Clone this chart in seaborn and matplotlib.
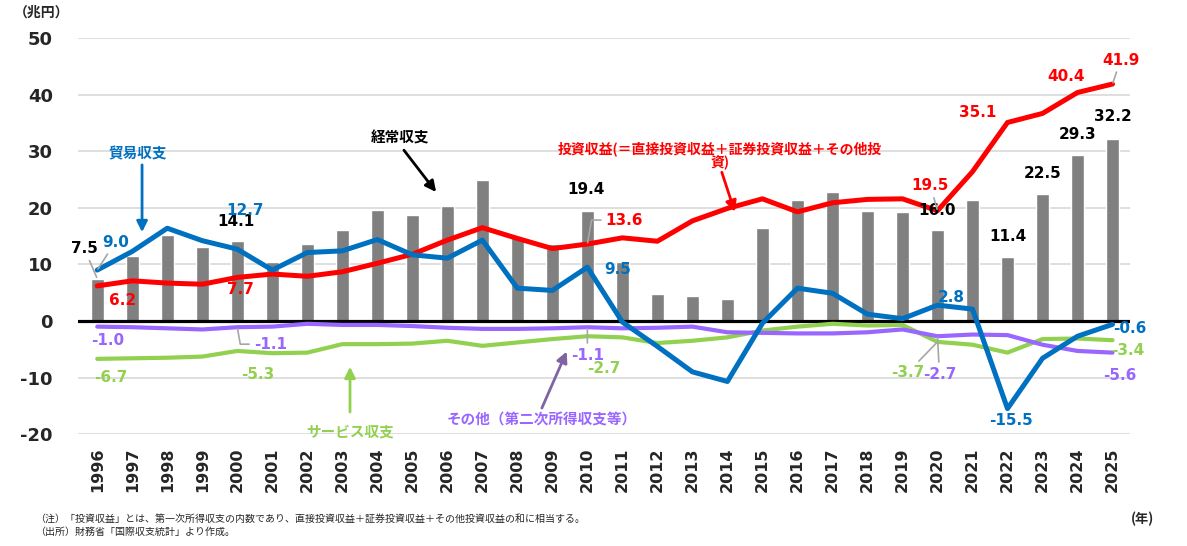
import numpy as np
import matplotlib
matplotlib.use("Agg")
import matplotlib.pyplot as plt
import seaborn as sns

sns.set_style("white")
plt.rcParams['font.family'] = ['DejaVu Sans', 'Noto Sans CJK JP']
plt.rcParams['axes.unicode_minus'] = False

# データ（兆円）
years = list(range(1996, 2026))
current = [7.5, 11.5, 15.2, 13.0, 14.1, 10.4, 13.6, 16.1, 19.6, 18.7, 20.3, 24.9, 14.9, 13.6, 19.4,
           10.5, 4.8, 4.4, 3.9, 16.4, 21.4, 22.8, 19.4, 19.3, 16.0, 21.4, 11.4, 22.5, 29.3, 32.2]
trade = [9.0, 12.3, 16.4, 14.2, 12.7, 9.0, 12.1, 12.4, 14.4, 11.7, 11.1, 14.3, 5.8, 5.4, 9.5,
         -0.2, -4.5, -9.0, -10.7, -0.4, 5.8, 4.9, 1.2, 0.4, 2.8, 2.1, -15.5, -6.6, -2.7, -0.6]
invest = [6.2, 7.1, 6.7, 6.5, 7.7, 8.3, 7.9, 8.7, 10.2, 11.8, 14.3, 16.5, 14.6, 12.8, 13.6,
          14.7, 14.1, 17.7, 19.9, 21.6, 19.3, 20.9, 21.5, 21.6, 19.5, 26.4, 35.1, 36.7, 40.4, 41.9]
services = [-6.7, -6.6, -6.5, -6.3, -5.3, -5.7, -5.6, -4.1, -4.1, -4.0, -3.5, -4.4, -3.8, -3.2, -2.7,
            -2.9, -3.9, -3.5, -2.9, -1.7, -1.0, -0.5, -0.8, -0.7, -3.7, -4.2, -5.6, -3.2, -3.1, -3.4]
other = [-1.0, -1.1, -1.3, -1.5, -1.1, -1.0, -0.5, -0.7, -0.7, -0.9, -1.2, -1.4, -1.4, -1.3, -1.1,
         -1.3, -1.2, -1.0, -2.0, -2.1, -2.2, -2.2, -2.0, -1.5, -2.7, -2.4, -2.5, -4.2, -5.3, -5.6]

C_BAR = '#808080'
C_TRADE = '#0070C0'
C_INV = '#FF0000'
C_SERV = '#92D050'
C_OTHER = '#9966FF'
C_LEAD = '#A6A6A6'
JP = 'Noto Sans CJK JP'

idx = np.arange(len(years))

fig, ax = plt.subplots(figsize=(11.87, 5.46), dpi=100)
fig.subplots_adjust(left=0.0657, right=0.952, top=0.930, bottom=0.205)

# 経常収支（棒）
sns.barplot(x=[str(y) for y in years], y=current, color=C_BAR, saturation=1, width=0.38, ax=ax, zorder=2)

ax.axhline(0, color='black', lw=2.3, zorder=3)

# 各項目（線）
line_kw = dict(solid_capstyle='round', solid_joinstyle='round', ax=ax)
sns.lineplot(x=idx, y=services, color=C_SERV, lw=3.0, zorder=4, **line_kw)
sns.lineplot(x=idx, y=other, color=C_OTHER, lw=3.0, zorder=5, **line_kw)
sns.lineplot(x=idx, y=invest, color=C_INV, lw=3.6, zorder=6, **line_kw)
sns.lineplot(x=idx, y=trade, color=C_TRADE, lw=3.6, zorder=7, **line_kw)

ax.set_xlim(-0.55, 29.5)
ax.set_ylim(-20, 50)
ax.set_yticks(range(-20, 51, 10))
ax.yaxis.grid(True, color='#D9D9D9', lw=1.2, zorder=0)
ax.set_axisbelow(True)
for s in ax.spines.values():
    s.set_visible(False)
ax.set_xlabel('')
ax.set_ylabel('')
ax.set_xticks(idx)
ax.set_xticklabels([str(y) for y in years], rotation=90, fontsize=11.5, fontweight='bold')
ax.tick_params(axis='x', length=0, pad=10)
ax.tick_params(axis='y', length=0, pad=18, labelsize=13)
for t in ax.get_yticklabels():
    t.set_fontweight('bold')

# データラベル（系列, 年, オフセットpx, 引出線）
series = {'ca': current, 'tr': trade, 'inv': invest, 'sv': services, 'ot': other}
colors = {'ca': 'black', 'tr': C_TRADE, 'inv': C_INV, 'sv': C_SERV, 'ot': C_OTHER}
labels = [
    ('ca', 1996, -13, 30, True), ('ca', 2000, -1, 20, False), ('ca', 2010, -1, 22, False),
    ('ca', 2020, 0, 20, False), ('ca', 2022, 0, 20, False), ('ca', 2023, 0, 20, False),
    ('ca', 2024, 0, 21, False), ('ca', 2025, 0, 22, False),
    ('tr', 1996, 18, 28, True), ('tr', 2000, 8, 39, False), ('tr', 2010, 30, -2, False),
    ('tr', 2020, 14, 8, False), ('tr', 2022, 4, -12, False), ('tr', 2025, 17, -4, False),
    ('inv', 1996, 25, -15, False), ('inv', 2000, 3, -12, False), ('inv', 2010, 37, 24, 'elbow'),
    ('inv', 2020, -7, 25, True), ('inv', 2022, -30, 10, False), ('inv', 2024, -11, 16, False),
    ('inv', 2025, 8, 24, True),
    ('sv', 1996, 14, -19, False), ('sv', 2000, 20, -24, False), ('sv', 2010, 16, -32, False),
    ('sv', 2020, -30, -31, True), ('sv', 2025, 15, -10, False),
    ('ot', 1996, 10, -14, False), ('ot', 2000, 33, -17, 'elbow2'), ('ot', 2010, 0, -28, True),
    ('ot', 2020, 2, -38, True), ('ot', 2025, 7, -23, False),
]
for key, yr, dx, dy, lead in labels:
    i = years.index(yr)
    v = series[key][i]
    ap = None
    if lead is True:
        ap = dict(arrowstyle='-', color=C_LEAD, lw=1.2, shrinkA=1, shrinkB=1)
    elif lead == 'elbow':
        ap = dict(arrowstyle='-', color=C_LEAD, lw=1.2, shrinkA=1, shrinkB=1,
                  connectionstyle='angle,angleA=0,angleB=80,rad=0')
    elif lead == 'elbow2':
        ap = dict(arrowstyle='-', color=C_LEAD, lw=1.2, shrinkA=1, shrinkB=1,
                  connectionstyle='angle,angleA=0,angleB=100,rad=0')
    ax.annotate(f'{v:.1f}', xy=(i, v), xytext=(dx, dy), textcoords='offset pixels',
                ha='center', va='center', fontsize=11, fontweight='bold', color=colors[key],
                family='DejaVu Sans', arrowprops=ap, zorder=10, annotation_clip=False)

# 系列名と矢印
arrow = lambda c: dict(arrowstyle='-|>', color=c, lw=2, mutation_scale=16, shrinkA=0, shrinkB=0)
ax.text(1.14, 29.7, '貿易収支', color=C_TRADE, fontsize=10.5, fontweight='bold', family=JP,
        ha='center', va='center')
ax.annotate('', xy=(1.28, 15.7), xytext=(1.28, 27.6), arrowprops=arrow(C_TRADE))
ax.text(8.65, 32.5, '経常収支', color='black', fontsize=10.5, fontweight='bold', family=JP,
        ha='center', va='center')
ax.annotate('', xy=(9.68, 22.8), xytext=(8.76, 30.2), arrowprops=arrow('black'))
ax.text(17.78, 29.2, '投資収益(＝直接投資収益＋証券投資収益＋その他投\n資)', color=C_INV, fontsize=10,
        fontweight='bold', family=JP, ha='center', va='center', multialignment='center',
        linespacing=1.0)
ax.annotate('', xy=(18.21, 19.3), xytext=(17.84, 26.3), arrowprops=arrow(C_INV))
ax.text(7.22, -19.6, 'サービス収支', color=C_SERV, fontsize=10.5, fontweight='bold', family=JP,
        ha='center', va='center')
ax.annotate('', xy=(7.22, -8.1), xytext=(7.22, -16.1), arrowprops=arrow(C_SERV))
ax.text(12.7, -17.5, 'その他（第二次所得収支等）', color=C_OTHER, fontsize=10.5, fontweight='bold',
        family=JP, ha='center', va='center')
ax.annotate('', xy=(13.41, -5.4), xytext=(12.7, -15.4), arrowprops=arrow('#8064A2'))

# 単位・注記
fig.text(42 / 1187, 1 - 13 / 546, '（兆円）', fontsize=10, fontweight='bold', family=JP,
         ha='center', va='center')
fig.text(1143 / 1187, 1 - 519 / 546, '(年)', fontsize=9.5, fontweight='bold', family=JP,
         ha='center', va='center')
fig.text(35 / 1187, 1 - 519 / 546,
         '（注）「投資収益」とは、第一次所得収支の内数であり、直接投資収益＋証券投資収益＋その他投資収益の和に相当する。',
         fontsize=7.2, family=JP, ha='left', va='center')
fig.text(35 / 1187, 1 - 532 / 546, '（出所）財務省「国際収支統計」より作成。',
         fontsize=7.2, family=JP, ha='left', va='center')

fig.savefig('out.png', dpi=100)
